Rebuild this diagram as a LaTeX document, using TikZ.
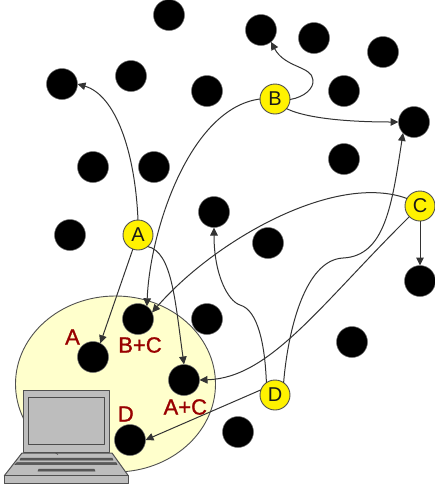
\documentclass[tikz,border=0pt]{standalone}
\usepackage{fontspec}
\setmainfont{Liberation Sans}
\newfontfamily\lblfont[FakeBold=1.2]{Liberation Sans}
\usetikzlibrary{arrows.meta}
\definecolor{cream}{HTML}{FFFFCC}
\definecolor{labelred}{HTML}{990000}
\definecolor{lapgray}{HTML}{BDBDBD}
\definecolor{edgegray}{HTML}{505050}
\tikzset{
  dot/.style={circle,fill=black,draw=black!55,line width=0.5pt,minimum size=31pt,inner sep=0pt,outer sep=0pt},
  peer/.style={circle,fill=yellow,draw=edgegray,line width=0.9pt,minimum size=30pt,inner sep=0pt,outer sep=0pt,font=\fontsize{20}{20}\selectfont,text=black!90},
  lbl/.style={text=labelred,inner sep=0pt,font=\lblfont\fontsize{22}{22}\selectfont},
  link/.style={draw=black!80,line width=1pt,-{Triangle[length=8pt,width=7.5pt]}},
  linkplain/.style={draw=black!80,line width=1pt},
  lap/.style={fill=lapgray,draw=edgegray,line width=1pt,line join=round},
  lapdark/.style={fill=black!65,draw=black!70,line width=0.5pt}
}
\begin{document}
\begin{tikzpicture}[x=1pt,y=-1pt]
\useasboundingbox (0,0) rectangle (435,491);
\fill[white] (0,0) rectangle (435,491);
% neighbourhood
\draw[fill=cream,draw=edgegray,line width=0.9pt] (115.5,384) ellipse [x radius=100,y radius=88];
% peers
\foreach \n/\x/\y in {n1/169/15,n2/261/30,n3/314/38,n4/383/52,n5/131/76,n6/62/84,n7/207/91,n8/344/91,
  n9/414/122,n10/93/167,n11/154/167,n12/344/159,n13/70/235,n14/214/212,n15/268/243,n16/420/281,
  n17/138/319,n18/207/319,n19/352/342,n20/93/357,n21/184/380,n22/130/440,n23/238/432}
  {\node[dot] (\n) at (\x,\y) {};}
\node[peer] (A) at (138,235) {A};
\node[peer] (B) at (275,99) {B};
\node[peer] (C) at (420,206) {C};
\node[peer] (D) at (275,395) {D};
% helper points on long curves
\coordinate (bend1) at (240,305);
\coordinate (bend2) at (343,258);
\coordinate (bend3) at (313,80);
% connectors
\draw[link] (A.90) .. controls (135,150) and (115,95) .. (n6.0);
\draw[link] (A.250) -- (n20.62);
\draw[link] (A.-50) .. controls (172,252) and (175,300) .. (n21.90);
\draw[linkplain] (B.-2) .. controls (305,97) and (314,88) .. (bend3);
\draw[link] (bend3) .. controls (312,66) and (285,68) .. (n2.-50);
\draw[link] (B.180) .. controls (190,108) and (150,230) .. (n17.55);
\draw[link] (B.-40) .. controls (310,120) and (360,122) .. (n9.180);
\draw[link] (C.150) .. controls (335,172) and (215,240) .. (n17.25);
\draw[link] (C.-90) -- (n16.90);
\draw[link] (C.225) .. controls (320,305) and (270,378) .. (n21.0);
\draw[linkplain] (D.125) .. controls (265,345) and (258,310) .. (bend1);
\draw[link] (bend1) .. controls (228,301) and (214,275) .. (n14.-90);
\draw[linkplain] (D.55) .. controls (288,330) and (305,260) .. (bend2);
\draw[link] (bend2) .. controls (385,256) and (392,205) .. (n9.225);
\draw[link] (D.160) -- (n22.0);
% labels
\node[lbl] (la) at (72.5,337) {A};
\node[lbl] (lbc) at (140,345) {B+C};
\node[lbl] (lac) at (185.3,407) {A+C};
\node[lbl] (ld) at (125.8,414) {D};
% laptop
\draw[lap] (22,453) -- (112,453) -- (128.3,475.7) -- (4.3,475.7) -- cycle;
\draw[lapdark] (21,458) -- (112,458) -- (113,460) -- (20,460) -- cycle;
\draw[lapdark] (17,462.5) -- (116,462.5) -- (117,464.5) -- (15,464.5) -- cycle;
\draw[lapdark] (39,469) -- (94,469) -- (95,471) -- (38,471) -- cycle;
\draw[lap] (4.3,475.7) rectangle (128.3,483.7);
\draw[lap] (23.3,390.7) rectangle (109.3,452.4);
\draw[lap,draw=black!70] (28,397) rectangle (104.7,444.7);
\draw[draw=edgegray,line width=0.8pt] (55,452.5) -- (58,454.5);
\end{tikzpicture}
\end{document}
